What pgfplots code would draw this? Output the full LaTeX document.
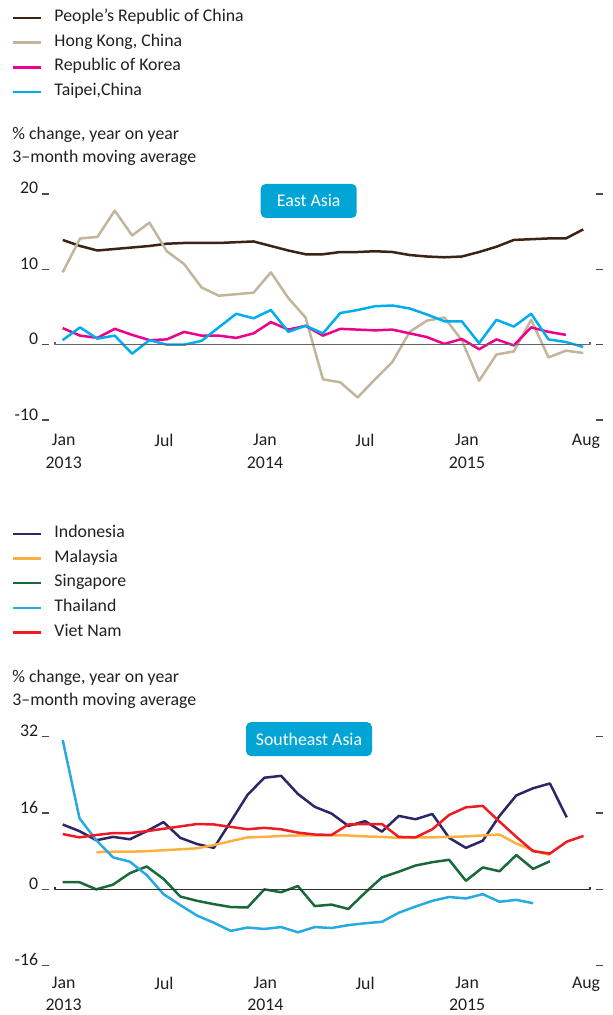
\documentclass[border=0pt]{standalone}
\usepackage{fontspec}
\setmainfont{Carlito}
\usepackage{pgfplots}
\pgfplotsset{compat=1.18}
\definecolor{china}{HTML}{3C2415}
\definecolor{hk}{HTML}{C2B59B}
\definecolor{korea}{HTML}{EC008C}
\definecolor{taipei}{HTML}{00AEEF}
\definecolor{indo}{HTML}{2B2768}
\definecolor{malay}{HTML}{FBB040}
\definecolor{sing}{HTML}{19693A}
\definecolor{thai}{HTML}{27AAE1}
\definecolor{viet}{HTML}{ED1C24}
\definecolor{boxc}{HTML}{00A5D5}
\definecolor{txt}{HTML}{231F20}
\newcommand{\ff}{\fontsize{8.9pt}{12.35pt}\selectfont}
\newcommand{\fx}{\fontsize{8.9pt}{11.5pt}\selectfont}
\newcommand{\fb}{\fontsize{8.9pt}{11pt}\selectfont}
\pgfplotsset{
  panel/.style={
    scale only axis, width=273.2pt, clip=false,
    axis line style={draw=none},
    tick align=outside, ytick pos=both,
    major tick length=3.8pt,
    ytick style={color=black!70, line width=0.7pt},
    xtick style={draw=none},
    yticklabel style={anchor=base east, inner sep=0pt, font=\ff, text=txt, xshift=-1.6pt},
    xticklabel style={anchor=north, align=center, inner sep=0pt, font=\fx, text=txt, yshift=-3.2pt},
    /pgf/number format/assume math mode=true,
    every axis plot/.append style={line width=1.25pt, line join=round, mark=none},
    legend cell align=left,
    legend style={draw=none, fill=none, inner sep=0pt, outer sep=0pt, row sep=0pt,
      font=\ff, text=txt, anchor=north west,
      nodes={inner sep=0pt, text height=8pt, text depth=4.35pt}},
    legend image code/.code={\draw[#1] (0pt,0pt) -- (14pt,0pt); \path (20pt,0pt);},
  }
}
\begin{document}
\begin{tikzpicture}
\useasboundingbox (0,0) rectangle (306.5pt,-507.5pt);
% ---------------- East Asia ----------------
\node[anchor=base west, align=left, inner sep=0pt, font=\fx, text=txt] at (6pt,-81.25pt) {\% change, year on year\\3–month moving average};
\begin{axis}[panel, at={(24.65pt,-210pt)}, anchor=south west, height=113pt,
  xmin=-0.772, xmax=30.72, ymin=-10, ymax=20, ytick={-10,0,10,20},
  xtick={0.06,5.84,11.66,17.42,23.3,30.16},
  xticklabels={Jan\\2013,Jul,Jan\\2014,Jul,Jan\\2015,Aug},
  legend style={at={(axis description cs:-0.0683,1.834)}}]
\addplot[china] coordinates {(0,13.9)(1,13.1)(2,12.5)(3,12.7)(4,12.9)(5,13.1)(6,13.4)(7,13.5)(8,13.5)(9,13.5)(10,13.6)(11,13.7)(12,13.1)(13,12.5)(14,12.0)(15,12.0)(16,12.3)(17,12.3)(18,12.4)(19,12.3)(20,11.9)(21,11.7)(22,11.6)(23,11.7)(24,12.3)(25,13.0)(26,13.9)(27,14.0)(28,14.1)(29,14.1)(30,15.3)};
\addlegendentry{People’s Republic of China}
\addplot[hk] coordinates {(0,9.6)(1,14.1)(2,14.3)(3,17.8)(4,14.5)(5,16.2)(6,12.4)(7,10.7)(8,7.6)(9,6.5)(10,6.7)(11,6.9)(12,9.6)(13,6.2)(14,3.6)(15,-4.6)(16,-5.0)(17,-7.0)(18,-4.6)(19,-2.3)(20,1.7)(21,3.2)(22,3.6)(23,0.6)(24,-4.8)(25,-1.3)(26,-0.9)(27,3.3)(28,-1.7)(29,-0.8)(30,-1.1)};
\addlegendentry{Hong Kong, China}
\addplot[korea] coordinates {(0,2.2)(1,1.2)(2,0.9)(3,2.1)(4,1.3)(5,0.6)(6,0.7)(7,1.7)(8,1.2)(9,1.2)(10,0.9)(11,1.5)(12,3.0)(13,2.0)(14,2.5)(15,1.2)(16,2.1)(17,2.0)(18,1.9)(19,2.0)(20,1.5)(21,1.0)(22,0.1)(23,0.75)(24,-0.6)(25,0.7)(26,-0.1)(27,2.3)(28,1.7)(29,1.3)};
\addlegendentry{Republic of Korea}
\addplot[taipei] coordinates {(0,0.6)(1,2.3)(2,0.8)(3,1.2)(4,-1.2)(5,0.6)(6,0.0)(7,0.0)(8,0.5)(9,2.3)(10,4.1)(11,3.5)(12,4.6)(13,1.7)(14,2.5)(15,1.5)(16,4.2)(17,4.6)(18,5.1)(19,5.2)(20,4.8)(21,4.0)(22,3.1)(23,3.1)(24,0.2)(25,3.3)(26,2.4)(27,4.1)(28,0.7)(29,0.35)(30,-0.3)};
\addlegendentry{Taipei,China}
\addplot[color=black!60, line width=0.75pt, forget plot] coordinates {(-0.444,0.35)(-0.444,0)(30.39,0)(30.39,0.35)};
\node[fill=boxc, text=white, rounded corners=2.5pt, minimum width=48pt, minimum height=17pt, inner sep=0pt, font=\ff] at (axis cs:14.18,19.08) {East Asia};
\end{axis}
% ---------------- Southeast Asia ----------------
\node[anchor=base west, align=left, inner sep=0pt, font=\fx, text=txt] at (6pt,-352.75pt) {\% change, year on year\\3–month moving average};
\begin{axis}[panel, at={(24.65pt,-482.85pt)}, anchor=south west, height=114.5pt,
  xmin=-0.798, xmax=31.726, ymin=-16, ymax=32, ytick={-16,0,16,32},
  xtick={0.06,6.03,12.06,18,24.07,31.15},
  xticklabels={Jan\\2013,Jul,Jan\\2014,Jul,Jan\\2015,Aug},
  xticklabel style={font=\fb, yshift=1.4pt},
  legend style={at={(axis description cs:-0.0683,1.940)}}]
\addplot[indo] coordinates {(0,13.6)(1,12.2)(2,10.3)(3,11.0)(4,10.5)(5,12.2)(6,14.1)(7,10.8)(8,9.5)(9,8.7)(10,14.2)(11,19.8)(12,23.4)(13,23.8)(14,20.0)(15,17.3)(16,15.9)(17,13.3)(18,14.3)(19,12.1)(20,15.4)(21,14.7)(22,15.8)(23,10.8)(24,8.7)(25,10.2)(26,15.4)(27,19.7)(28,21.2)(29,22.2)(30,15.1)};
\addlegendentry{Indonesia}
\addplot[malay] coordinates {(2,7.8)(3,7.9)(4,7.9)(5,8.0)(6,8.2)(7,8.4)(8,8.6)(9,9.3)(10,10.1)(11,10.9)(12,11.0)(13,11.2)(14,11.3)(15,11.3)(16,11.3)(17,11.3)(18,11.1)(19,11.0)(20,10.8)(21,10.9)(22,10.9)(23,11.0)(24,11.1)(25,11.3)(26,11.5)(27,9.6)(28,8.2)(29,7.2)};
\addlegendentry{Malaysia}
\addplot[sing] coordinates {(0,1.5)(1,1.5)(2,0.0)(3,1.0)(4,3.4)(5,4.8)(6,2.2)(7,-1.5)(8,-2.4)(9,-3.1)(10,-3.7)(11,-3.8)(12,0.0)(13,-0.6)(14,0.7)(15,-3.5)(16,-3.2)(17,-4.1)(18,-0.7)(19,2.5)(20,3.7)(21,5.0)(22,5.7)(23,6.2)(24,1.8)(25,4.6)(26,3.8)(27,7.2)(28,4.3)(29,5.9)};
\addlegendentry{Singapore}
\addplot[thai] coordinates {(0,31.3)(1,14.9)(2,10.3)(3,6.7)(4,5.8)(5,3.0)(6,-1.0)(7,-3.3)(8,-5.5)(9,-7.0)(10,-8.7)(11,-8.0)(12,-8.3)(13,-7.9)(14,-9.0)(15,-7.9)(16,-8.1)(17,-7.5)(18,-7.1)(19,-6.8)(20,-4.9)(21,-3.6)(22,-2.4)(23,-1.6)(24,-1.9)(25,-1.0)(26,-2.6)(27,-2.2)(28,-2.9)};
\addlegendentry{Thailand}
\addplot[viet] coordinates {(0,11.6)(1,10.9)(2,11.4)(3,11.8)(4,11.8)(5,12.2)(6,12.7)(7,13.2)(8,13.7)(9,13.6)(10,13.1)(11,12.6)(12,12.9)(13,12.6)(14,11.9)(15,11.5)(16,11.4)(17,13.6)(18,13.7)(19,13.7)(20,11.0)(21,10.9)(22,12.6)(23,15.6)(24,17.2)(25,17.5)(26,14.2)(27,11.0)(28,8.0)(29,7.5)(30,10.0)(31,11.2)};
\addlegendentry{Viet Nam}
\addplot[color=black!80, line width=0.6pt, forget plot] coordinates {(-0.458,0.56)(-0.458,0)(31.39,0)(31.39,0.56)};
\node[fill=boxc, text=white, rounded corners=2.5pt, minimum width=63pt, minimum height=17pt, inner sep=0pt, font=\ff] at (axis cs:14.66,31.5) {Southeast Asia};
\end{axis}
\end{tikzpicture}
\end{document}
